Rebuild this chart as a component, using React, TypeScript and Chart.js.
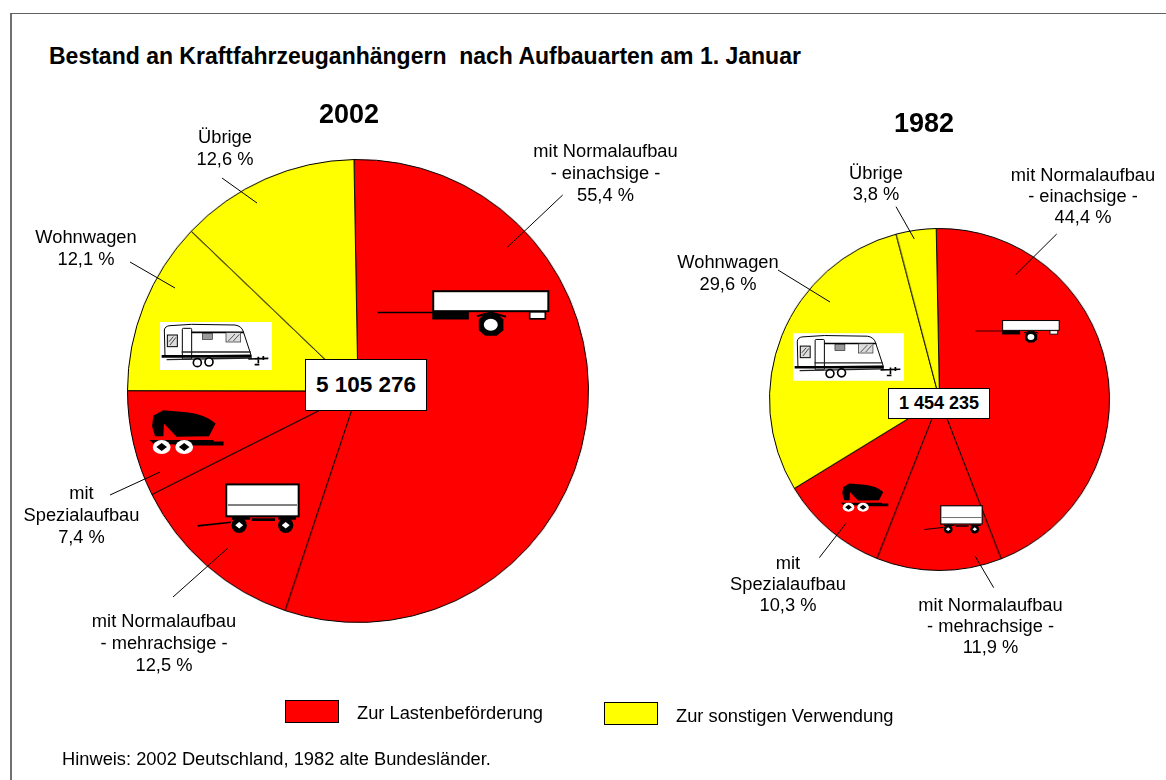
import React, { useEffect, useRef } from "react";
import { Chart, registerables } from "chart.js";

Chart.register(...registerables);

const titleText = "Bestand an Kraftfahrzeuganhängern  nach Aufbauarten am 1. Januar";
const noteText = "Hinweis: 2002 Deutschland, 1982 alte Bundesländer.";
const categories = [
  "mit Normalaufbau einachsig",
  "mit Normalaufbau mehrachsig",
  "mit Spezialaufbau",
  "Wohnwagen",
  "Übrige",
];
const values2002 = [55.4, 12.5, 7.4, 12.1, 12.6];
const values1982 = [44.4, 11.9, 10.3, 29.6, 3.8];
const sliceColors = ["#ff0000", "#ff0000", "#ff0000", "#ffff00", "#ffff00"];
const total2002 = "5 105 276";
const total1982 = "1 454 235";
const legendLabels = ["Zur Lastenbeförderung", "Zur sonstigen Verwendung"];
const labelHeads = [
  ["mit Normalaufbau", "- einachsige -"],
  ["mit Normalaufbau", "- mehrachsige -"],
  ["mit", "Spezialaufbau"],
  ["Wohnwagen"],
  ["Übrige"],
];

const FONT = "'Liberation Sans', Arial, sans-serif";
const pct = (v: number) => v.toFixed(1).replace(".", ",") + " %";

function Pie({ values, cx, cy, rx, ry, rotation }: { values: number[]; cx: number; cy: number; rx: number; ry: number; rotation: number }) {
  const ref = useRef<HTMLCanvasElement>(null);
  const size = 2 * Math.max(rx, ry) + 1;
  const w = 2 * rx + 1;
  const h = 2 * ry + 1;
  useEffect(() => {
    const chart = new Chart(ref.current!, {
      type: "pie",
      data: {
        labels: categories,
        datasets: [
          {
            data: values,
            backgroundColor: sliceColors,
            borderColor: "#000000",
            borderWidth: 1,
          },
        ],
      },
      options: {
        responsive: false,
        animation: false,
        devicePixelRatio: 1,
        rotation,
        layout: { padding: 0 },
        plugins: { legend: { display: false }, tooltip: { enabled: false }, title: { display: false } },
      },
    });
    return () => chart.destroy();
  }, []);
  return (
    <div style={{ position: "absolute", left: cx - w / 2, top: cy - h / 2, width: w, height: h }}>
      <canvas
        ref={ref}
        width={size}
        height={size}
        style={{ display: "block", width: size, height: size, transformOrigin: "0 0", transform: `scale(${w / size}, ${h / size})` }}
      />
    </div>
  );
}

function Text({ lines, x, y, size = 18.3, lh = 22, bold = false }: { lines: string[]; x: number; y: number; size?: number; lh?: number; bold?: boolean }) {
  return (
    <div
      style={{
        position: "absolute",
        left: x - 120,
        top: y,
        width: 240,
        textAlign: "center",
        fontFamily: FONT,
        fontSize: size,
        fontWeight: bold ? "bold" : "normal",
        lineHeight: lh + "px",
        color: "#000",
      }}
    >
      {lines.map((l, i) => (
        <div key={i}>{l}</div>
      ))}
    </div>
  );
}

function Box({ text, x, y, w, h, size }: { text: string; x: number; y: number; w: number; h: number; size: number }) {
  return (
    <div
      style={{
        position: "absolute",
        left: x,
        top: y,
        width: w,
        height: h,
        boxSizing: "border-box",
        background: "#fff",
        border: "1px solid #000",
        textAlign: "center",
        fontFamily: FONT,
        fontWeight: "bold",
        fontSize: size,
        lineHeight: h - 2 + "px",
      }}
    >
      {text}
    </div>
  );
}

type Place = { x: number; y: number; w: number; h: number };

function svgStyle(p: Place): React.CSSProperties {
  return { position: "absolute", left: p.x, top: p.y, width: p.w, height: p.h };
}

function Caravan({ p }: { p: Place }) {
  return (
    <svg style={svgStyle(p)} viewBox="120 126 336 144">
      <rect x="120" y="126" width="336" height="144" fill="#fff" />
      <path d="M135 228 L133 150 Q135 138 150 137 L215 133 L345 135 Q365 138 370 155 L393 225 Z" fill="#fff" stroke="#000" strokeWidth="3" />
      <path d="M190 157 H372" stroke="#000" strokeWidth="5" fill="none" />
      <rect x="187" y="145" width="28" height="92" rx="3" fill="#fff" stroke="#000" strokeWidth="3" />
      <rect x="142" y="165" width="30" height="35" fill="#ddd" stroke="#000" strokeWidth="3" />
      <path d="M147 185 L160 170 M150 195 L168 172" stroke="#444" strokeWidth="3" />
      <rect x="247" y="160" width="30" height="18" fill="#999" stroke="#222" strokeWidth="2" />
      <rect x="318" y="158" width="44" height="28" fill="#ddd" stroke="#222" strokeWidth="2" />
      <path d="M325 183 L345 162 M340 183 L358 163" stroke="#555" strokeWidth="3" />
      <path d="M125 229 H395" stroke="#000" strokeWidth="8" />
      <path d="M185 216 H392 M140 239 L395 234" stroke="#222" strokeWidth="4" />
      <circle cx="232" cy="248" r="12" fill="#fff" stroke="#000" strokeWidth="5" />
      <circle cx="267" cy="246" r="12" fill="#fff" stroke="#000" strokeWidth="5" />
      <path d="M385 237 L445 235 M415 230 V250 M404 254 H418 M430 228 V240" stroke="#000" strokeWidth="5" fill="none" />
    </svg>
  );
}

function Mixer({ p }: { p: Place }) {
  return (
    <svg style={svgStyle(p)} viewBox="85 385 230 145">
      <path d="M100 408 L130 392 L200 398 Q260 405 288 432 L268 470 L170 472 L132 432 L130 470 L105 470 L96 440 Z" fill="#000" />
      <path d="M88 482 H282 V486 H312 V498 H230 L100 492 Z" fill="#000" />
      {[125, 193].map((c) => (
        <g key={c}>
          <ellipse cx={c} cy={503} rx={27} ry={21} fill="#fff" />
          <path d={`M${c - 16} 503 L${c} 491 L${c + 16} 503 L${c} 515 Z`} fill="#000" />
        </g>
      ))}
    </svg>
  );
}

function TrailerMulti({ p }: { p: Place }) {
  return (
    <svg style={svgStyle(p)} viewBox="230 610 310 150">
      <rect x="318" y="614" width="218" height="96" fill="#fff" stroke="#000" strokeWidth="6" />
      <path d="M323 676 H531" stroke="#000" strokeWidth="3" />
      <path d="M232 739 L332 728" stroke="#000" strokeWidth="5" />
      <path d="M395 720 H465 M335 716 H390 M475 716 H528" stroke="#000" strokeWidth="8" />
      {[357, 497].map((c) => (
        <g key={c}>
          <circle cx={c} cy={737} r={23} fill="#000" />
          <path d={`M${c - 12} 737 L${c} 727 L${c + 12} 737 L${c} 747 Z`} fill="#fff" />
        </g>
      ))}
    </svg>
  );
}

function TrailerSingle({ p }: { p: Place }) {
  return (
    <svg style={svgStyle(p)} viewBox="20 60 520 140">
      <rect x="189" y="63" width="346" height="60" fill="#fff" stroke="#000" strokeWidth="6" />
      <path d="M22 127 H190" stroke="#000" strokeWidth="5" />
      <rect x="186" y="124" width="110" height="24" fill="#000" />
      <path d="M320 138 L362 127 L408 140" stroke="#000" strokeWidth="6" fill="none" />
      <path d="M345 129 H380 L400 148 V180 L380 197 H345 L326 180 V148 Z" fill="#000" />
      <ellipse cx="362" cy="164" rx="21" ry="18" fill="#fff" />
      <rect x="479" y="125" width="47" height="21" fill="#fff" stroke="#000" strokeWidth="5" />
    </svg>
  );
}

const leaders: number[][] = [
  [562.7, 195, 507.3, 247.3],
  [222, 178, 257, 203],
  [130, 262, 175, 288],
  [110, 495, 160, 472],
  [173, 597, 228, 548],
  [1056.7, 234, 1015.7, 274.7],
  [896, 206.7, 914.3, 239],
  [778, 270, 830, 302],
  [819.3, 557.7, 846, 523.3],
  [975, 556, 993.7, 587.7],
];

export default function App() {
  return (
    <div style={{ position: "absolute", left: 0, top: 0, width: 1166, height: 780, overflow: "hidden", background: "#fff" }}>
      <div
        style={{
          position: "absolute",
          left: 10,
          top: 13,
          width: 1200,
          height: 800,
          borderLeft: "2px solid #707070",
          borderTop: "1px solid #606060",
        }}
      />
      <div style={{ position: "absolute", left: 49, top: 44, fontFamily: FONT, fontWeight: "bold", fontSize: 23, lineHeight: "24px", whiteSpace: "pre" }}>
        {titleText}
      </div>
      <Pie values={values2002} cx={357.5} cy={390.5} rx={230.5} ry={231.5} rotation={-1} />
      <Pie values={values1982} cx={939} cy={399} rx={170} ry={171} rotation={-1.1} />
      <svg style={{ position: "absolute", left: 0, top: 0, width: 1166, height: 780 }}>
        {leaders.map((l, i) => (
          <line key={i} x1={l[0]} y1={l[1]} x2={l[2]} y2={l[3]} stroke="#000" strokeWidth="1" />
        ))}
      </svg>
      <Caravan p={{ x: 160, y: 322, w: 112, h: 48 }} />
      <Caravan p={{ x: 793, y: 333, w: 111, h: 48 }} />
      <Mixer p={{ x: 148, y: 408, w: 77, h: 48 }} />
      <Mixer p={{ x: 840, y: 482, w: 49, h: 31 }} />
      <TrailerMulti p={{ x: 197, y: 483, w: 103, h: 50 }} />
      <TrailerMulti p={{ x: 923.5, y: 505, w: 59, h: 28.5 }} />
      <TrailerSingle p={{ x: 377, y: 290, w: 173, h: 47 }} />
      <TrailerSingle p={{ x: 975, y: 320, w: 85, h: 23 }} />
      <Box text={total2002} x={305} y={359} w={122} h={52} size={22.5} />
      <Box text={total1982} x={888} y={388} w={102} h={31} size={18} />

      <Text lines={["2002"]} x={349} y={99} size={27} lh={30} bold />
      <Text lines={["1982"]} x={924} y={108} size={27} lh={30} bold />

      <Text lines={[...labelHeads[0], pct(values2002[0])]} x={605.5} y={139.5} />
      <Text lines={[...labelHeads[1], pct(values2002[1])]} x={164} y={610} />
      <Text lines={[...labelHeads[2], pct(values2002[2])]} x={81.5} y={482} />
      <Text lines={[...labelHeads[3], pct(values2002[3])]} x={86} y={226} />
      <Text lines={[...labelHeads[4], pct(values2002[4])]} x={225} y={126} />

      <Text lines={[...labelHeads[0], pct(values1982[0])]} x={1083} y={164} lh={21} />
      <Text lines={[...labelHeads[1], pct(values1982[1])]} x={990.5} y={594} lh={21} />
      <Text lines={[...labelHeads[2], pct(values1982[2])]} x={788} y={552} lh={21} />
      <Text lines={[...labelHeads[3], pct(values1982[3])]} x={728} y={251} />
      <Text lines={[...labelHeads[4], pct(values1982[4])]} x={876} y={162} lh={21} />

      <div style={{ position: "absolute", left: 285, top: 700, width: 54, height: 23, boxSizing: "border-box", background: "#ff0000", border: "1px solid #000" }} />
      <div style={{ position: "absolute", left: 604, top: 702, width: 54, height: 23, boxSizing: "border-box", background: "#ffff00", border: "1px solid #000" }} />
      <div style={{ position: "absolute", left: 357, top: 702, fontFamily: FONT, fontSize: 18.3, lineHeight: "22px" }}>{legendLabels[0]}</div>
      <div style={{ position: "absolute", left: 676, top: 705, fontFamily: FONT, fontSize: 18.3, lineHeight: "22px" }}>{legendLabels[1]}</div>
      <div style={{ position: "absolute", left: 62, top: 748, fontFamily: FONT, fontSize: 18.3, lineHeight: "22px" }}>{noteText}</div>
    </div>
  );
}
